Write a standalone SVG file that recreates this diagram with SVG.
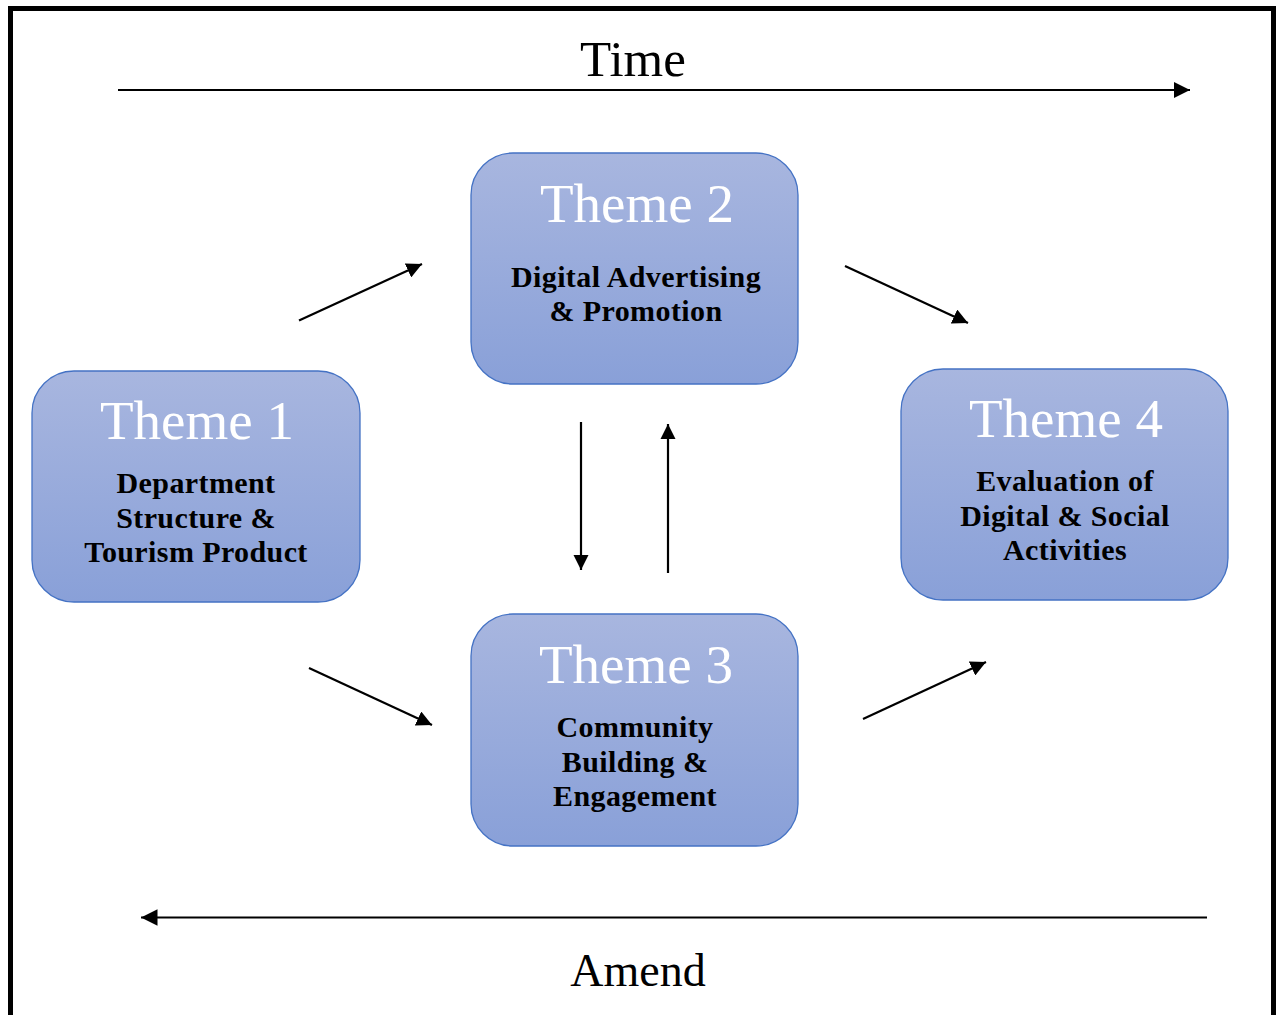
<svg xmlns="http://www.w3.org/2000/svg" width="1277" height="1015" viewBox="0 0 1277 1015">
<defs>
<linearGradient id="g" x1="0" y1="0" x2="0" y2="1">
<stop offset="0" stop-color="#a8b6df"/>
<stop offset="1" stop-color="#89a0d8"/>
</linearGradient>
<marker id="ah" viewBox="0 0 10 10" refX="10" refY="5" markerWidth="7.5" markerHeight="7.5" markerUnits="strokeWidth" orient="auto">
<path d="M0,0 L10,5 L0,10 z" fill="#000"/>
</marker>
<marker id="ah2" viewBox="0 0 10 10" refX="10" refY="5" markerWidth="7" markerHeight="7" markerUnits="strokeWidth" orient="auto">
<path d="M0,0 L10,5 L0,10 z" fill="#000"/>
</marker>
</defs>
<style>
.box{fill:url(#g);stroke:#4472c4;stroke-width:1.3}
.t{font-family:"Liberation Serif",serif;fill:#fff;font-size:55px;text-anchor:middle}
.s{font-family:"Liberation Serif",serif;font-weight:bold;fill:#000;font-size:30px;letter-spacing:0.4px;text-anchor:middle}
.lab{font-family:"Liberation Serif",serif;fill:#000;text-anchor:middle}
.c{stroke:#000;stroke-width:2.2;fill:none}
</style>
<rect x="10.5" y="8.5" width="1263" height="1020" fill="#fff" stroke="#000" stroke-width="5"/>
<text class="lab" x="633" y="76" font-size="51">Time</text>
<text class="lab" x="638" y="986" font-size="46">Amend</text>
<g id="connectors">
<line class="c" x1="118" y1="90" x2="1190" y2="90" marker-end="url(#ah)"/>
<line class="c" x1="1207" y1="917.5" x2="141" y2="917.5" marker-end="url(#ah)"/>
<line class="c" x1="299" y1="320.5" x2="422" y2="264" marker-end="url(#ah2)"/>
<line class="c" x1="845" y1="266" x2="968" y2="323" marker-end="url(#ah2)"/>
<line class="c" x1="309" y1="668" x2="432" y2="725" marker-end="url(#ah2)"/>
<line class="c" x1="863" y1="719" x2="986" y2="662" marker-end="url(#ah2)"/>
<line class="c" x1="581" y1="422" x2="581" y2="570" marker-end="url(#ah2)"/>
<line class="c" x1="668" y1="573" x2="668" y2="424" marker-end="url(#ah2)"/>
</g>
<g id="theme1">
<rect class="box" x="32" y="371" width="328" height="231" rx="42"/>
<text class="t" x="197" y="439">Theme 1</text>
<text class="s" x="196" y="493">Department</text>
<text class="s" x="196" y="528">Structure &amp;</text>
<text class="s" x="196" y="562">Tourism Product</text>
</g>
<g id="theme2">
<rect class="box" x="471" y="153" width="327" height="231" rx="42"/>
<text class="t" x="637" y="222">Theme 2</text>
<text class="s" x="636" y="287">Digital Advertising</text>
<text class="s" x="636" y="321">&amp; Promotion</text>
</g>
<g id="theme3">
<rect class="box" x="471" y="614" width="327" height="232" rx="42"/>
<text class="t" x="636" y="683">Theme 3</text>
<text class="s" x="635" y="737">Community</text>
<text class="s" x="635" y="772">Building &amp;</text>
<text class="s" x="635" y="806">Engagement</text>
</g>
<g id="theme4">
<rect class="box" x="901" y="369" width="327" height="231" rx="42"/>
<text class="t" x="1066" y="437">Theme 4</text>
<text class="s" x="1065" y="491">Evaluation of</text>
<text class="s" x="1065" y="526">Digital &amp; Social</text>
<text class="s" x="1065" y="560">Activities</text>
</g>
</svg>
